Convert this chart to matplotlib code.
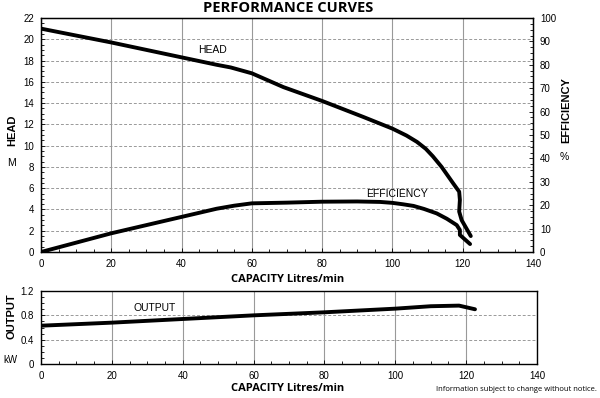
import matplotlib.pyplot as plt
import numpy as np
from matplotlib.ticker import MultipleLocator

plt.rcParams['font.family'] = ['Liberation Sans', 'DejaVu Sans']

# capacity (L/min) vs head (m)
head_x = [0, 20, 40, 50, 54, 60, 69, 80, 91.7, 100, 104, 107, 109.5, 111.5, 114, 117.3, 119.0, 119.2, 119.0, 119.7, 122.3]
head_y = [21.0, 19.7, 18.3, 17.6, 17.35, 16.8, 15.5, 14.2, 12.7, 11.6, 10.95, 10.35, 9.7, 9.0, 8.0, 6.45, 5.67, 4.9, 3.8, 3.0, 1.5]

# capacity vs efficiency (%)
eff_x = [0, 20, 40, 50, 55, 60, 70, 80, 90, 96.5, 100, 103, 106, 109, 112.6, 115.5, 118.3, 119.2, 119.2, 122.1]
eff_y = [0, 8, 15, 18.5, 19.8, 20.8, 21.1, 21.5, 21.6, 21.4, 21.0, 20.4, 19.7, 18.4, 16.5, 14.2, 11.5, 9.4, 7.3, 3.4]

# capacity vs output (kW)
out_x = [0, 20, 40, 60, 80, 100, 110, 118, 122.5]
out_y = [0.63, 0.68, 0.74, 0.80, 0.85, 0.91, 0.95, 0.96, 0.90]

fig = plt.figure(figsize=(6, 3.98), dpi=100)

ax = fig.add_axes([0.0683, 0.3668, 0.82, 0.588])
ax.plot(head_x, head_y, color='black', lw=2.8, solid_capstyle='round', solid_joinstyle='round')
ax.set_xlim(0, 140)
ax.set_ylim(0, 22)
ax.xaxis.set_major_locator(MultipleLocator(20))
ax.xaxis.set_minor_locator(MultipleLocator(5))
ax.yaxis.set_major_locator(MultipleLocator(2))
ax.yaxis.set_minor_locator(MultipleLocator(0.5))
ax.tick_params(direction='in', labelsize=7, length=3, width=0.6, pad=5)
ax.tick_params(which='minor', direction='in', length=2, width=0.6)
ax.grid(axis='x', color='#999999', lw=0.8)
ax.grid(axis='y', color='#999999', lw=0.7, ls=(0, (3, 2)))
for s in ax.spines.values():
    s.set_linewidth(1.0)
ax.text(44.7, 19.0, 'HEAD', fontsize=7.5, va='center')

ax2 = ax.twinx()
ax2.plot(eff_x, eff_y, color='black', lw=2.8, solid_capstyle='round', solid_joinstyle='round')
ax2.set_ylim(0, 100)
ax2.yaxis.set_major_locator(MultipleLocator(10))
ax2.yaxis.set_minor_locator(MultipleLocator(2.5))
ax2.tick_params(direction='in', labelsize=7, length=3, width=0.6, pad=5)
ax2.tick_params(which='minor', direction='in', length=2, width=0.6)
ax2.text(92.5, 25.0, 'EFFICIENCY', fontsize=7.5, va='center')

bx = fig.add_axes([0.0683, 0.0854, 0.8267, 0.1834])
bx.plot(out_x, out_y, color='black', lw=2.8, solid_capstyle='round', solid_joinstyle='round')
bx.set_xlim(0, 140)
bx.set_ylim(0, 1.2)
bx.xaxis.set_major_locator(MultipleLocator(20))
bx.xaxis.set_minor_locator(MultipleLocator(5))
bx.yaxis.set_minor_locator(MultipleLocator(0.1))
bx.set_yticks([0, 0.4, 0.8, 1.2], ['0', '0.4', '0.8', '1.2'])
bx.tick_params(direction='in', labelsize=7, length=3, width=0.6, pad=5)
bx.tick_params(which='minor', direction='in', length=2, width=0.6)
bx.grid(axis='x', color='#999999', lw=0.8)
bx.grid(axis='y', color='#999999', lw=0.7, ls=(0, (3, 2)))
for s in bx.spines.values():
    s.set_linewidth(1.0)
bx.text(26, 0.92, 'OUTPUT', fontsize=7.5, va='center')

fig.text(0.48, 0.98, 'PERFORMANCE CURVES', ha='center', va='center',
         fontsize=10.5, fontweight='bold', family='Open Sans')
fig.text(0.48, 0.297, 'CAPACITY Litres/min', ha='center', va='center',
         fontsize=8, fontweight='bold', family='Open Sans')
fig.text(0.48, 0.025, 'CAPACITY Litres/min', ha='center', va='center',
         fontsize=8, fontweight='bold', family='Open Sans')
fig.text(0.995, 0.022, 'Information subject to change without notice.',
         ha='right', va='center', fontsize=5.5, family='Open Sans')

fig.text(0.02, 0.673, 'HEAD', rotation=90, ha='center', va='center',
         fontsize=8, fontweight='bold')
fig.text(0.02, 0.59, 'M', ha='center', va='center', fontsize=7.5)
fig.text(0.943, 0.724, 'EFFICIENCY', rotation=90, ha='center', va='center',
         fontsize=8, fontweight='bold')
fig.text(0.94, 0.606, '%', ha='center', va='center', fontsize=7.5)
fig.text(0.02, 0.205, 'OUTPUT', rotation=90, ha='center', va='center',
         fontsize=8, fontweight='bold')
fig.text(0.018, 0.096, 'kW', ha='center', va='center', fontsize=7)

fig.savefig('out.png', dpi=100)
